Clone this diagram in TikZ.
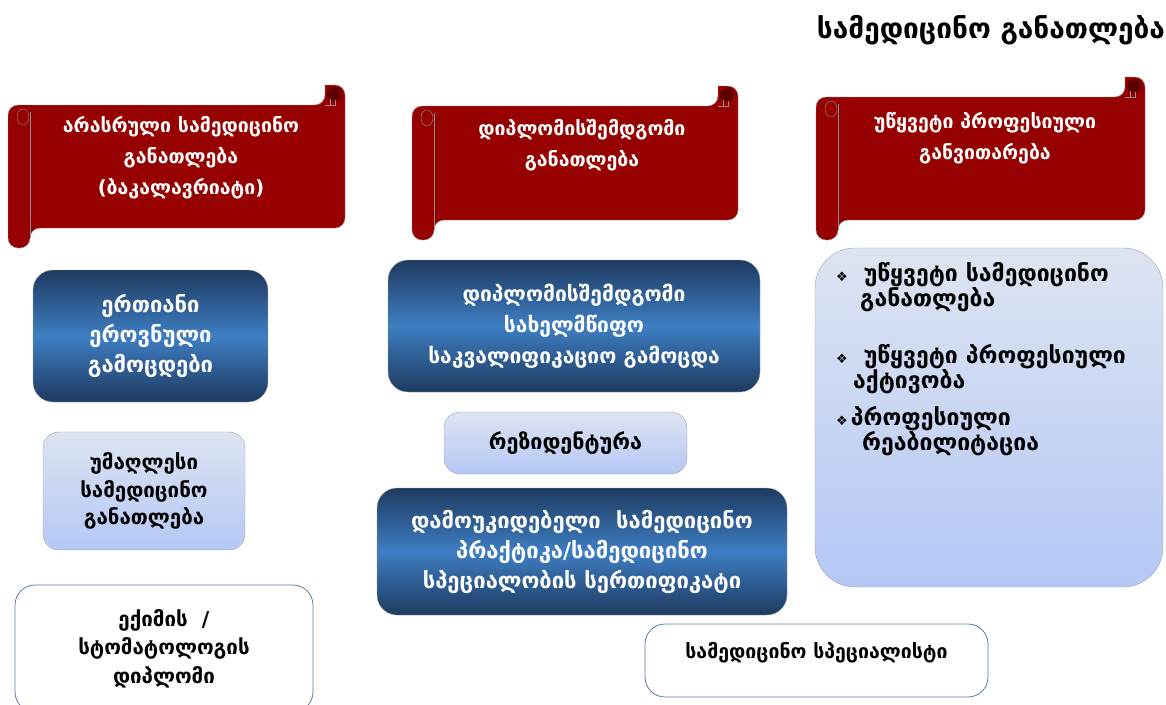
\documentclass[tikz,border=0pt]{standalone}
\usepackage{fontspec}
\setmainfont{DejaVu Sans}
\usepackage{tikz}
\usetikzlibrary{positioning, calc}
\definecolor{scrollRed}{HTML}{970000}
\definecolor{scrollEdge}{HTML}{8f8f8f}
\definecolor{curlRed}{HTML}{5e0000}
\definecolor{navyEdge}{HTML}{1e3a60}
\definecolor{navyMid}{HTML}{3e7ec2}
\definecolor{paleTop}{HTML}{dde4f1}
\definecolor{paleBot}{HTML}{b4c7f6}
\definecolor{boxEdge}{HTML}{a3a3a3}
\definecolor{plainEdge}{HTML}{5b7ca6}
% banner with two rolls: #1,#2 = top left, #3,#4 = bottom right (px)
\newcommand{\scrollbanner}[4]{%
  \draw[fill=scrollRed, draw=scrollEdge, rounded corners=10] (#1+22,#4-20) -- (#1+22,#4) -- (#1,#4) -- (#1,#2+20) -- (#3-20,#2+20) [sharp corners]-- (#3-20,#2) [rounded corners=10]-- (#3,#2) -- (#3,#4-20) -- cycle;
  \draw[scrollEdge] (#1+22,#2+27) -- (#1+22,#4-10);
  \draw[scrollEdge] (#1+15,#2+32) ellipse [x radius=6pt, y radius=8pt];
  \fill[curlRed] (#3-11,#2+9) circle (7pt);
  \draw[scrollEdge] (#3-15,#2+14) -- (#3-15,#2+20) (#3-20,#2+20) -- (#3-10,#2+20) -- (#3-10,#2+15);
}

\begin{document}
\begin{tikzpicture}[x=1pt, y=-1pt, navybox/.style={draw=boxEdge, rounded corners=20, top color=navyEdge, bottom color=navyEdge, middle color=navyMid, text=white, align=center, font=\bfseries\fontsize{22}{30}\selectfont}, palebox/.style={draw=boxEdge, rounded corners=16, top color=paleTop, bottom color=paleBot, align=center, font=\bfseries\fontsize{20.5}{27.5}\selectfont}, plainbox/.style={draw=plainEdge, thick, fill=white, rounded corners=20, align=center, font=\bfseries\fontsize{20.5}{28.5}\selectfont}, scrolltxt/.style={text=white, align=center, font=\bfseries\fontsize{19.5}{31}\selectfont}, itemtxt/.style={anchor=north west, inner sep=0pt, align=left, font=\bfseries\fontsize{23}{25.5}\selectfont}]
\useasboundingbox (0,0) rectangle (1166,704);
\node[font=\bfseries\fontsize{28}{30}\selectfont] (title) at (991,30) {სამედიცინო განათლება};
\scrollbanner{8}{85}{345}{248}
\scrollbanner{412}{86}{738}{240}
\scrollbanner{816}{77}{1145}{240}
\node[scrolltxt] (bachelor) at (181,158) {არასრული სამედიცინო\\განათლება\\(ბაკალავრიატი)};
\node[scrolltxt] (postgrad) at (582,145) {დიპლომისშემდგომი\\განათლება};
\node[scrolltxt] (cpd) at (985,138) {უწყვეტი პროფესიული\\განვითარება};
\node[navybox, minimum width=235, minimum height=132] (exams) at (150.5,336) {ერთიანი\\ეროვნული\\გამოცდები};
\node[palebox, minimum width=202, minimum height=118] (higher) at (144,491) {უმაღლესი\\სამედიცინო\\განათლება};
\node[plainbox, minimum width=298, minimum height=127] (diploma) at (164,648.5) {ექიმის\ \ /\\სტომატოლოგის\\დიპლომი};
\node[navybox, font=\bfseries\fontsize{21}{31}\selectfont, minimum width=372, minimum height=132] (stateexam) at (574,326) {დიპლომისშემდგომი\\სახელმწიფო\\საკვალიფიკაციო გამოცდა};
\node[palebox, font=\bfseries\fontsize{21.5}{27}\selectfont, minimum width=243, minimum height=62] (residency) at (565.5,443) {რეზიდენტურა};
\node[navybox, minimum width=410, minimum height=127] (practice) at (582,551.5) {დამოუკიდებელი\ \ სამედიცინო\\პრაქტიკა/სამედიცინო\\სპეციალობის სერთიფიკატი};
\node[plainbox, font=\bfseries\fontsize{19.5}{27}\selectfont, minimum width=343, minimum height=73, text depth=20pt] (specialist) at (816.5,660.5) {სამედიცინო სპეციალისტი};
\node[palebox, rounded corners=40, minimum width=348, minimum height=339] (cpdbox) at (989,417.5) {};
\node[itemtxt] (cme) at (836,262) {{\fontsize{13}{13}\selectfont ❖}\ \ უწყვეტი სამედიცინო\\\hspace*{24pt}განათლება};
\node[itemtxt] (activity) at (836,344) {{\fontsize{13}{13}\selectfont ❖}\ \ უწყვეტი პროფესიული\\\hspace*{17pt}აქტივობა};
\node[itemtxt] (rehab) at (836,406) {{\fontsize{13}{13}\selectfont ❖}\hspace{3pt}პროფესიული\\\hspace*{26pt}რეაბილიტაცია};
\end{tikzpicture}
\end{document}
